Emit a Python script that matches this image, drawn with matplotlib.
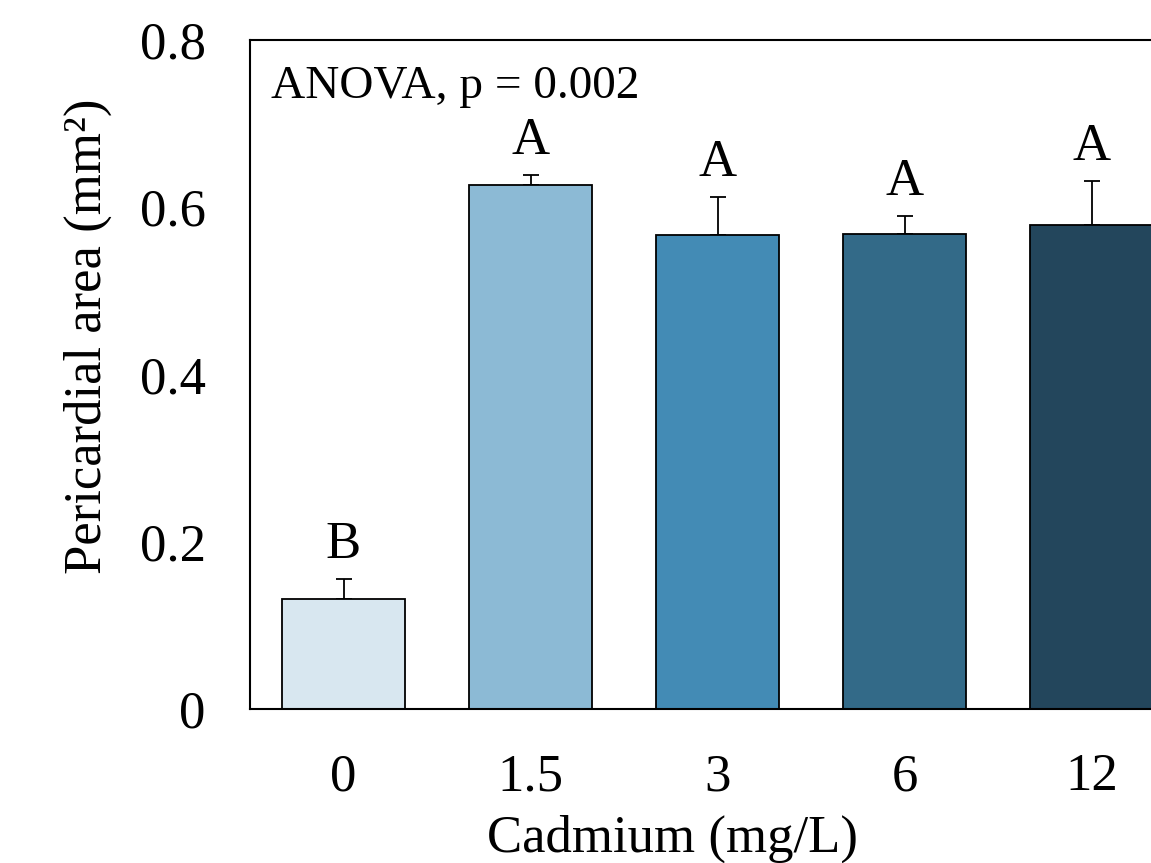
import matplotlib.pyplot as plt
import numpy as np

plt.rcParams['font.family'] = ['Liberation Serif', 'DejaVu Serif']

doses = ['0', '1.5', '3', '6', '12']
area = [0.131, 0.627, 0.567, 0.568, 0.579]
err = [0.025, 0.012, 0.045, 0.022, 0.052]
letters = ['B', 'A', 'A', 'A', 'A']
colors = ['#d8e7f0', '#8cbad5', '#438bb5', '#336a88', '#23465c']

x = np.arange(len(doses))

fig = plt.figure(figsize=(11.51, 8.63), dpi=100)
ax = fig.add_axes([250 / 1151, (863 - 709) / 863, 935 / 1151, 669 / 863])

ax.bar(x, area, width=0.66, color=colors, edgecolor='black', linewidth=1.3, zorder=2)
ax.errorbar(x, area, yerr=[np.zeros(len(err)), err], fmt='none', ecolor='black',
            elinewidth=1.3, capsize=6, capthick=1.3, zorder=1)
for i, lab in enumerate(letters):
    ax.text(x[i], area[i] + err[i] + 0.012, lab, ha='center', va='bottom', fontsize=38)

ax.text(0.022, 0.962, 'ANOVA, p = 0.002', transform=ax.transAxes, ha='left', va='top', fontsize=34)

ax.set_xlim(-0.5, 4.5)
ax.set_ylim(0, 0.8)
ax.set_yticks([0, 0.2, 0.4, 0.6, 0.8])
ax.set_yticklabels(['0', '0.2', '0.4', '0.6', '0.8'])
ax.set_xticks(x)
ax.set_xticklabels(doses)
ax.tick_params(length=0, labelsize=38)
ax.tick_params(axis='y', pad=32)
ax.tick_params(axis='x', pad=32)
for s in ax.spines.values():
    s.set_linewidth(1.5)

ax.set_xlabel('Cadmium (mg/L)', fontsize=38)
ax.xaxis.set_label_coords(0.452, -0.158)
ax.set_ylabel('Pericardial area (mm²)', fontsize=38)
ax.yaxis.set_label_coords(-0.148, 0.557)

fig.savefig('out.png', dpi=100)
